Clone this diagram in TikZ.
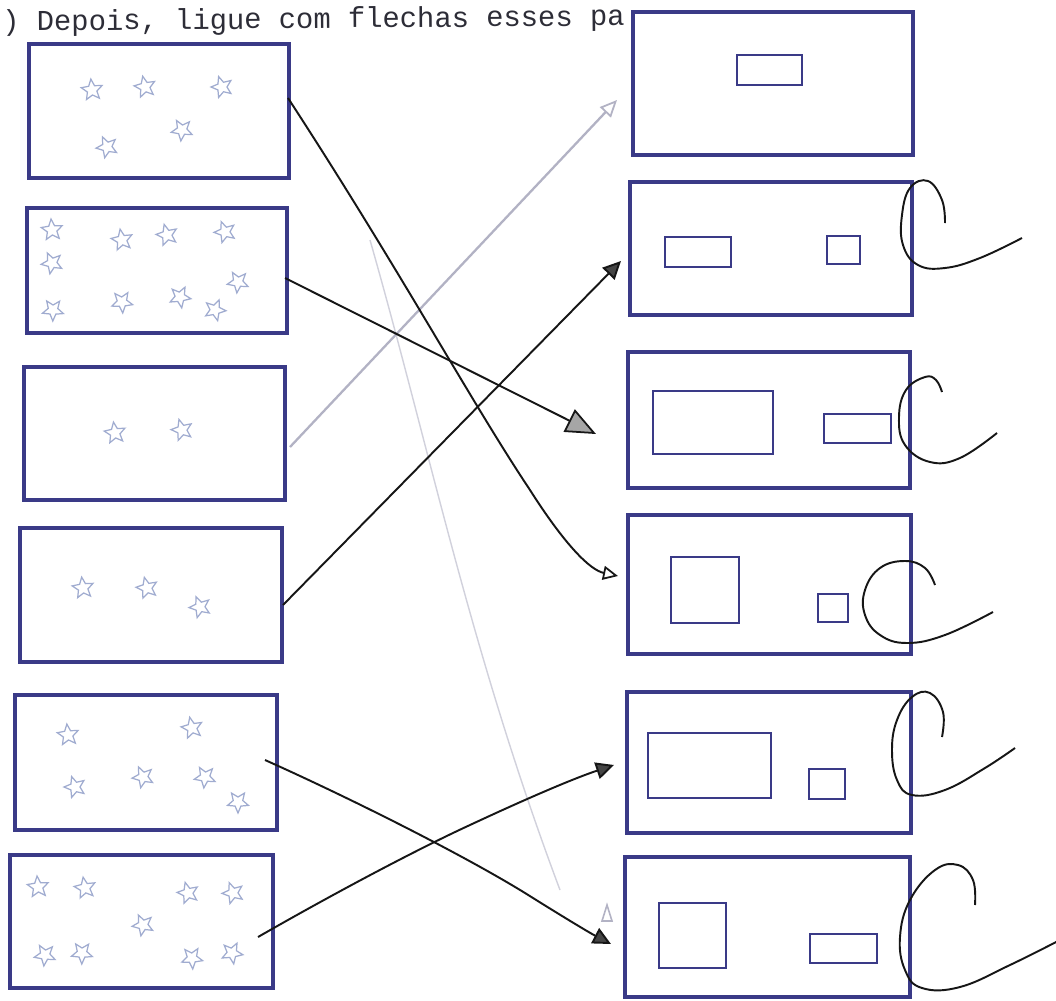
\documentclass[tikz,border=0pt]{standalone}
\usepackage{fontspec}
\newfontfamily\typew{Liberation Mono}
\usetikzlibrary{shapes.geometric,arrows.meta,fit}
\definecolor{ink}{RGB}{58,58,135}
\definecolor{starc}{RGB}{160,172,208}
\definecolor{pen}{RGB}{22,22,22}
\definecolor{pencil}{RGB}{178,178,196}
\definecolor{titlec}{RGB}{45,45,55}
\begin{document}
\begin{tikzpicture}[x=0.02cm,y=-0.02cm,
  box/.style={draw=ink, line width=1.9pt, inner sep=0pt},
  inrect/.style={draw=ink, line width=1.6pt, inner sep=0pt},
  st/.style={star, star points=5, star point ratio=2.2, draw=starc, line width=0.7pt, minimum size=0.44cm, inner sep=0pt},
  arr/.style={draw=pen, line width=1.1pt},
  cmark/.style={draw=pen, line width=1.1pt},
  opentip/.style={-{Triangle[open, length=0.3cm, width=0.28cm, line width=1pt]}},
  filltip/.style={-{Triangle[length=0.36cm, width=0.34cm, fill=pen!80]}},
  scribtip/.style={-{Triangle[length=0.6cm, width=0.5cm, fill=gray!70, line width=1pt]}}
]
\useasboundingbox (0,0) rectangle (1056,1001);
\fill[white] (0,0) rectangle (1056,1001);
\clip (0,0) rectangle (1056,1001);

% title
\node[anchor=base west, rotate=0.5, text=titlec, inner sep=0pt,
  font=\typew\fontsize{16.4}{20}\selectfont] (title) at (2,31) {) Depois, ligue com flechas esses pa};

% left boxes
\node[box, fit={(29,44) (289,178)}] (L1) {};
\node[box, fit={(27,208) (287,333)}] (L2) {};
\node[box, fit={(24,367) (285,500)}] (L3) {};
\node[box, fit={(20,528) (282,662)}] (L4) {};
\node[box, fit={(15,695) (277,830)}] (L5) {};
\node[box, fit={(10,855) (273,988)}] (L6) {};

% stars
\foreach \p [count=\i] in {(92,90),(145,87),(222,87),(107,147),(182,130)}
  \node[st, rotate=6*\i] (sa\i) at \p {};
\foreach \p [count=\i] in {(52,230),(122,240),(167,235),(225,232),(52,263),(238,282),(53,310),(122,302),(180,297),(215,310)}
  \node[st, rotate=5*\i] (sb\i) at \p {};
\foreach \p [count=\i] in {(115,433),(182,430)}
  \node[st, rotate=8*\i] (sc\i) at \p {};
\foreach \p [count=\i] in {(83,588),(147,588),(200,607)}
  \node[st, rotate=7*\i] (sd\i) at \p {};
\foreach \p [count=\i] in {(68,735),(192,728),(75,787),(143,777),(205,777),(238,802)}
  \node[st, rotate=6*\i] (se\i) at \p {};
\foreach \p [count=\i] in {(38,887),(85,888),(188,893),(233,893),(143,925),(45,955),(82,953),(192,958),(232,953)}
  \node[st, rotate=5*\i] (sf\i) at \p {};

% right boxes
\node[box, fit={(633,12) (913,155)}] (R1) {};
\node[box, fit={(630,182) (912,315)}] (R2) {};
\node[box, fit={(628,352) (910,488)}] (R3) {};
\node[box, fit={(628,515) (911,654)}] (R4) {};
\node[box, fit={(627,692) (911,833)}] (R5) {};
\node[box, fit={(625,857) (910,997)}] (R6) {};

% inner rectangles
\node[inrect, fit={(737,55) (802,85)}] (R1a) {};
\node[inrect, fit={(665,237) (731,267)}] (R2a) {};
\node[inrect, fit={(827,236) (860,264)}] (R2b) {};
\node[inrect, fit={(653,391) (773,454)}] (R3a) {};
\node[inrect, fit={(824,414) (891,443)}] (R3b) {};
\node[inrect, fit={(671,557) (739,623)}] (R4a) {};
\node[inrect, fit={(818,594) (848,622)}] (R4b) {};
\node[inrect, fit={(648,733) (771,798)}] (R5a) {};
\node[inrect, fit={(809,769) (845,799)}] (R5b) {};
\node[inrect, fit={(659,903) (726,968)}] (R6a) {};
\node[inrect, fit={(810,934) (877,963)}] (R6b) {};

% connector ends
\coordinate (a1s) at (288,98);   \coordinate (a1e) at (618,576);
\coordinate (a2s) at (285,278);  \coordinate (a2e) at (596,434);
\coordinate (a3s) at (283,605);  \coordinate (a3e) at (621,261);
\coordinate (g1s) at (290,447);  \coordinate (g1e) at (617,100);
\coordinate (a5s) at (265,760);  \coordinate (a5e) at (611,944);
\coordinate (a6s) at (258,937);  \coordinate (a6e) at (614,765);
\coordinate (f1) at (370,240);   \coordinate (f2) at (560,890);

% faint pencil stroke
\draw[pencil!60, line width=0.8pt] (f1) .. controls (430,450) and (470,650) .. (f2);
% pencil arrow
\draw[pencil, line width=1.3pt, -{Triangle[open, length=0.34cm, width=0.3cm, line width=1pt]}] (g1s) -- (g1e);

% pen arrows
\draw[arr, opentip] (a1s) .. controls (400,270) and (470,400) .. (530,490)
  .. controls (565,545) and (590,570) .. (a1e);
\draw[arr, scribtip] (a2s) -- (a2e);
\draw[arr, filltip] (a3s) -- (a3e);
\draw[arr, filltip] (a5s) .. controls (350,798) and (470,858) .. (533,898)
  .. controls (565,918) and (590,933) .. (a5e);
\draw[arr, filltip] (a6s) .. controls (340,890) and (420,848) .. (470,825)
  .. controls (530,797) and (575,778) .. (a6e);
% stray small open head
\draw[pencil, line width=0.9pt] (602,921) -- (607,905) -- (612,921) -- cycle;

% C marks
\draw[cmark] plot[smooth, tension=0.7] coordinates {(945,223) (942,200) (928,181) (910,188) (902,215) (903,245) (918,265) (945,268) (980,258) (1022,238)};
\draw[cmark] plot[smooth, tension=0.7] coordinates {(942,392) (936,380) (925,377) (906,390) (899,417) (905,445) (930,462) (960,458) (997,433)};
\draw[cmark] plot[smooth, tension=0.7] coordinates {(935,585) (925,568) (905,561) (880,568) (865,590) (865,615) (880,635) (907,643) (945,635) (993,612)};
\draw[cmark] plot[smooth, tension=0.7] coordinates {(942,737) (943,712) (930,693) (912,697) (897,720) (892,750) (897,780) (912,795) (945,790) (985,768) (1015,748)};
\draw[cmark] plot[smooth, tension=0.7] coordinates {(975,905) (973,880) (958,865) (935,870) (910,900) (900,937) (905,970) (922,988) (960,987) (1010,965) (1060,940)};
\end{tikzpicture}
\end{document}
